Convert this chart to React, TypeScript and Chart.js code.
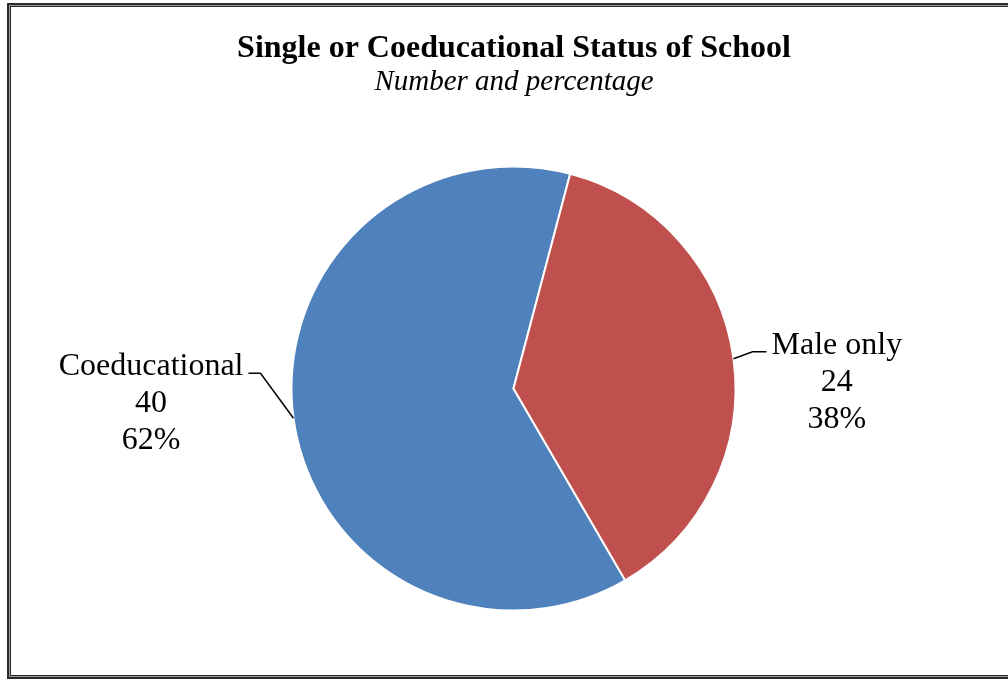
import React, { useEffect, useRef } from "react";
import { Chart, registerables } from "chart.js";

Chart.register(...registerables);

const TITLE = "Single or Coeducational Status of School";
const SUBTITLE = "Number and percentage";
const categories = ["Coeducational", "Male only"];
const counts = [40, 24];
const percents = [62, 38];
const colors = ["#4F81BD", "#C0504D"];

const FONT = '"Liberation Serif", "Times New Roman", serif';

// leader line style per slice: elbow offset from slice edge, horizontal run
const leaders = [
  { dx: -33, dy: -45, run: -12 },
  { dx: 19, dy: -7, run: 14 },
];

const labelPlugin = {
  id: "labelPlugin",
  afterDraw(chart: any) {
    const ctx = chart.ctx as CanvasRenderingContext2D;
    ctx.save();
    ctx.fillStyle = "#000";
    ctx.textAlign = "center";
    ctx.textBaseline = "alphabetic";
    ctx.font = `bold 32px ${FONT}`;
    ctx.fillText(TITLE, 514, 57);
    ctx.font = `italic 29px ${FONT}`;
    ctx.fillText(SUBTITLE, 514, 90);

    const meta = chart.getDatasetMeta(0);
    meta.data.forEach((arc: any, i: number) => {
      const mid = (arc.startAngle + arc.endAngle) / 2;
      const ex = arc.x + arc.outerRadius * Math.cos(mid);
      const ey = arc.y + arc.outerRadius * Math.sin(mid);
      const L = leaders[i];
      const bx = ex + L.dx;
      const by = ey + L.dy;
      const fx = bx + L.run;
      ctx.strokeStyle = "#000";
      ctx.lineWidth = 1.5;
      ctx.beginPath();
      ctx.moveTo(ex, ey);
      ctx.lineTo(bx, by);
      ctx.lineTo(fx, by);
      ctx.stroke();

      ctx.font = `32px ${FONT}`;
      const lines = [categories[i], String(counts[i]), percents[i] + "%"];
      const w = Math.max(...lines.map((t) => ctx.measureText(t).width));
      const cx = L.run < 0 ? fx - 5 - w / 2 : fx + 5 + w / 2;
      lines.forEach((t, k) => {
        ctx.fillText(t, cx, by + 2 + k * 37);
      });
    });
    ctx.restore();
  },
};

export default function App() {
  const ref = useRef<HTMLCanvasElement>(null);
  useEffect(() => {
    if (!ref.current) return;
    const chart = new Chart(ref.current, {
      type: "pie",
      data: {
        labels: categories,
        datasets: [
          {
            data: counts,
            backgroundColor: colors,
            borderColor: "#ffffff",
            borderWidth: 2,
          },
        ],
      },
      options: {
        responsive: false,
        maintainAspectRatio: false,
        animation: false,
        rotation: 149.8,
        radius: 222,
        layout: { padding: { top: 166.5, bottom: 68.5, left: 213.5, right: 194.5 } },
        plugins: {
          legend: { display: false },
          title: { display: false },
          tooltip: { enabled: false },
        },
      },
      plugins: [labelPlugin],
    });
    return () => chart.destroy();
  }, []);

  return (
    <div
      style={{
        position: "absolute",
        left: 0,
        top: 0,
        width: 1008,
        height: 679,
        overflow: "hidden",
        background: "#fff",
      }}
    >
      <div
        style={{
          position: "absolute",
          left: 7,
          top: 3,
          width: 1020,
          height: 676,
          boxSizing: "border-box",
          border: "2px solid #2b2b2b",
          padding: 1,
          background: "#9a9a9a",
        }}
      >
        <div
          style={{
            width: "100%",
            height: "100%",
            boxSizing: "border-box",
            border: "1px solid #2b2b2b",
            background: "#fff",
          }}
        />
      </div>
      <canvas
        ref={ref}
        width={1008}
        height={679}
        style={{ position: "absolute", left: 0, top: 0, display: "block" }}
      />
    </div>
  );
}
